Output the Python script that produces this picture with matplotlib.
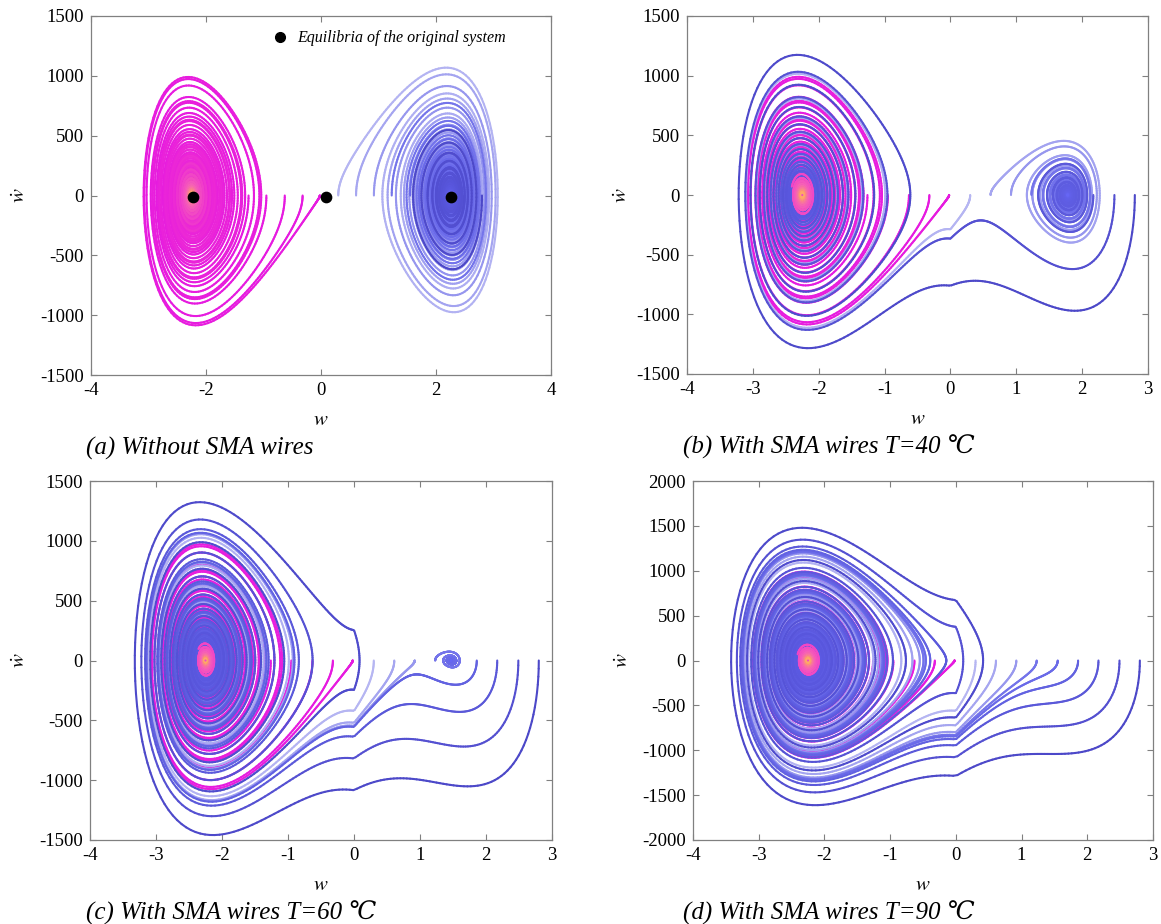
import numpy as np
import matplotlib
matplotlib.use("Agg")
import matplotlib.pyplot as plt
from matplotlib.collections import LineCollection
from matplotlib.colors import LinearSegmentedColormap, to_rgb
from matplotlib.lines import Line2D

# ---------------- data ----------------
# initial displacements (all released from rest, w_dot = 0), read on the w axis
w_start = [-1.26, -0.95, -0.63, -0.32, -0.02, 0.30, 0.61, 0.92,
           1.23, 1.55, 1.86, 2.17, 2.49, 2.80]

# bistable model: w'' = -c w' + b (A w - w^3) - b s(w),  s(w) = F + K w for w > 0 (SMA wires)
beam_b = 108000.0
beam_A = 5.0625
panel_c = [70.0, 70.0, 78.0, 70.0]
panel_F = [0.0, 2.03, 3.63, 5.95]
panel_K = [0.0, 0.75, 0.43, -0.69]

# equilibria of the original system (panel a)
eq_w = [-2.22, 0.08, 2.26]
eq_wdot = [-15, -15, -15]

captions = ["(a) Without SMA wires",
            "(b) With SMA wires T=40 \u2103",
            "(c) With SMA wires T=60 \u2103",
            "(d) With SMA wires T=90 \u2103"]
panel_xlim = [(-4, 4), (-4, 3), (-4, 3), (-4, 3)]
panel_ylim = [(-1500, 1500), (-1500, 1500), (-1500, 1500), (-2000, 2000)]
panel_xticks = [[-4, -2, 0, 2, 4], list(range(-4, 4)), list(range(-4, 4)), list(range(-4, 4))]

# ---------------- style ----------------
plt.rcParams["font.family"] = ["Liberation Serif", "DejaVu Serif", "DejaVu Sans"]
plt.rcParams["mathtext.fontset"] = "stix"
plt.rcParams["axes.unicode_minus"] = False

magenta_map = LinearSegmentedColormap.from_list(
    "mag", ["#e61ae0", "#ec28d6", "#f660b8", "#ffa868"])
blue_base = ["#b6b6f2", "#a6a6f0", "#9898ee", "#7474ea", "#6a6ae8",
             "#6262e0", "#5a58d8", "#5450d0", "#4c48c8"]
blue_end = "#6666f4"


def simulate(F, K, c, t_end=0.25, dt=1e-5, keep=5):
    w = np.array(w_start, dtype=float)
    v = np.zeros_like(w)

    def acc(w, v):
        sma = np.where(w > 0, F + K * w, 0.0)
        return -c * v + beam_b * (beam_A * w - w ** 3 - sma)

    n = int(t_end / dt)
    ws, vs = [], []
    for i in range(n):
        if i % keep == 0:
            ws.append(w.copy())
            vs.append(v.copy())
        k1w, k1v = v, acc(w, v)
        k2w, k2v = v + 0.5 * dt * k1v, acc(w + 0.5 * dt * k1w, v + 0.5 * dt * k1v)
        k3w, k3v = v + 0.5 * dt * k2v, acc(w + 0.5 * dt * k2w, v + 0.5 * dt * k2v)
        k4w, k4v = v + dt * k3v, acc(w + dt * k3w, v + dt * k3v)
        w = w + dt / 6 * (k1w + 2 * k2w + 2 * k3w + k4w)
        v = v + dt / 6 * (k1v + 2 * k2v + 2 * k3v + k4v)
    t = np.arange(len(ws)) * dt * keep
    return np.array(ws).T, np.array(vs).T, t


def segments(x, y):
    pts = np.column_stack([x, y]).reshape(-1, 1, 2)
    return np.concatenate([pts[:-1], pts[1:]], axis=1)


def add_traj(ax, x, y, colors, lw=1.5, z=2):
    lc = LineCollection(segments(x, y), colors=colors, linewidths=lw,
                        capstyle="round", joinstyle="round", zorder=z)
    ax.add_collection(lc)


fig = plt.figure(figsize=(11.61, 9.24), dpi=100)
W, H = 1161, 924
boxes = [(91, 16, 551, 375), (687, 16, 1148, 374),
         (90, 481, 552, 840), (693, 481, 1153, 840)]
label_x = [-0.133, -0.12, -0.13, -0.13]
caption_x = [86, 683, 86, 683]

for p in range(4):
    x0, y0, x1, y1 = boxes[p]
    ax = fig.add_axes([x0 / W, 1 - y1 / H, (x1 - x0) / W, (y1 - y0) / H])
    ws, vs, t = simulate(panel_F[p], panel_K[p], panel_c[p])
    frac = np.clip(t[:-1] / 0.12, 0, 1)

    left = [i for i, s in enumerate(w_start) if s <= 0]
    right = [i for i, s in enumerate(w_start) if s > 0]

    for i in left:
        add_traj(ax, ws[i], vs[i], magenta_map(frac), z=2)
    for k, i in enumerate(right):
        c0 = np.array(to_rgb(blue_base[k]))
        c1 = np.array(to_rgb(blue_end))
        cols = c0[None, :] * (1 - frac[:, None]) + c1[None, :] * frac[:, None]
        add_traj(ax, ws[i], vs[i], cols, z=3)
    # late part of the left-released orbits (orange core) on top
    tail = t > 0.06
    for i in left:
        add_traj(ax, ws[i][tail], vs[i][tail], magenta_map(frac[tail[:-1]][1:]), z=4)

    if p == 0:
        ax.scatter(eq_w, eq_wdot, s=55, color="black", zorder=6)
        h = Line2D([], [], marker="o", color="black", linestyle="none", markersize=7)
        ax.legend([h], ["Equilibria of the original system"], loc="upper left",
                  bbox_to_anchor=(0.345, 1.0), frameon=False, handletextpad=0.1,
                  prop={"style": "italic", "size": 11.5})

    ax.set_xlim(*panel_xlim[p])
    ax.set_ylim(*panel_ylim[p])
    ax.set_xticks(panel_xticks[p])
    ax.set_yticks(np.arange(panel_ylim[p][0], panel_ylim[p][1] + 1, 500))
    ax.tick_params(direction="in", top=True, right=True, length=4,
                   labelsize=13.5, color="#808080", pad=5)
    for sp in ax.spines.values():
        sp.set_color("#808080")
        sp.set_linewidth(0.9)
    ax.set_xlabel("$w$", fontsize=15)
    ax.set_ylabel(r"$\dot{w}$", fontsize=15)
    ax.xaxis.set_label_coords(0.5, -36 / (y1 - y0))
    ax.yaxis.set_label_coords(label_x[p], 0.5)

    fig.text(caption_x[p] / W, 1 - (y1 + 73) / H, captions[p], fontsize=18,
             style="italic", ha="left", va="center")

fig.savefig("out.png", dpi=100)
